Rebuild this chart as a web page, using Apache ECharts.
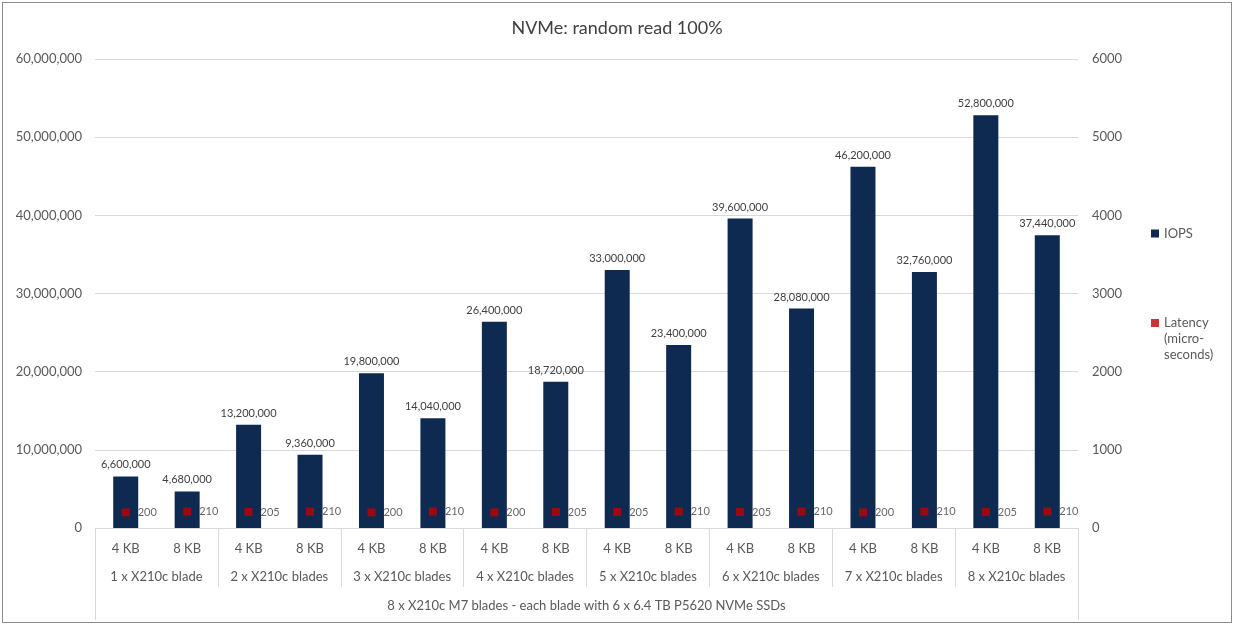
<!DOCTYPE html>
<html>
<head>
<meta charset="utf-8">
<script src="https://cdn.jsdelivr.net/npm/echarts@6/dist/echarts.min.js"></script>
<style>
    html, body { margin: 0; padding: 0; background: #fff; }
    #frame { position: absolute; left: 2px; top: 2px; width: 1228px; height: 619px; border: 1px solid #8c8c8c; }
    #chart { position: absolute; left: 0; top: 0; width: 1234px; height: 627px; }
</style>
</head>
<body>
<div id="frame"></div>
<div id="chart"></div>
<script>
    // block size per bar
    var sizes = ['4 KB', '8 KB', '4 KB', '8 KB', '4 KB', '8 KB', '4 KB', '8 KB',
                 '4 KB', '8 KB', '4 KB', '8 KB', '4 KB', '8 KB', '4 KB', '8 KB']
    var groups = ['1 x X210c blade', '2 x X210c blades', '3 x X210c blades', '4 x X210c blades',
                  '5 x X210c blades', '6 x X210c blades', '7 x X210c blades', '8 x X210c blades']
    var outer = ['8 x X210c M7 blades - each blade with 6 x 6.4 TB P5620 NVMe SSDs']
    var iops = [6600000, 4680000, 13200000, 9360000, 19800000, 14040000, 26400000, 18720000,
                33000000, 23400000, 39600000, 28080000, 46200000, 32760000, 52800000, 37440000]
    var latency = [200, 210, 205, 210, 200, 210, 200, 205, 205, 210, 205, 210, 200, 210, 205, 210]

    var font = 'Lato'
    var txt = '#595959'
    var sep = '#d9d9d9'

    function fmt(v) {
        return Number(v).toLocaleString('en-US')
    }

    var dom = echarts.init(document.getElementById('chart'))
    var option = {
        textStyle: { fontFamily: font },
        title: {
            text: 'NVMe: random read 100%',
            left: 'center',
            top: 14,
            textStyle: { fontFamily: font, fontSize: 18, fontWeight: 'normal', color: '#404040' }
        },
        legend: [{
            orient: 'vertical',
            left: 1146,
            top: 222,
            itemWidth: 8,
            itemHeight: 8,
            icon: 'rect',
            data: ['IOPS'],
            textStyle: { fontFamily: font, fontSize: 13, color: txt }
        }, {
            orient: 'vertical',
            left: 1146,
            top: 278,
            itemWidth: 8,
            itemHeight: 8,
            icon: 'rect',
            data: ['Latency'],
            // blank lines first so the icon sits on the first text line
            formatter: function () { return ' \n \nLatency\n(micro-\nseconds)' },
            textStyle: { fontFamily: font, fontSize: 13, color: txt, lineHeight: 16 }
        }],
        grid: { left: 95, right: 156, top: 59, bottom: 99 },
        xAxis: [{
            type: 'category',
            data: sizes,
            position: 'bottom',
            axisLine: { lineStyle: { color: sep } },
            axisTick: { show: false },
            axisLabel: { interval: 0, margin: 14, fontSize: 13, color: txt, fontFamily: font }
        }, {
            type: 'category',
            data: groups,
            position: 'bottom',
            axisLine: { show: false },
            axisTick: { show: true, interval: 0, length: 59, lineStyle: { color: sep } },
            axisLabel: { interval: 0, margin: 42, fontSize: 13, color: txt, fontFamily: font }
        }, {
            type: 'category',
            data: outer,
            position: 'bottom',
            axisLine: { show: false },
            axisTick: { show: true, interval: 0, length: 92, lineStyle: { color: sep } },
            axisLabel: { interval: 0, margin: 71, fontSize: 13, color: txt, fontFamily: font }
        }],
        yAxis: [{
            type: 'value',
            min: 0,
            max: 60000000,
            interval: 10000000,
            axisLine: { show: false },
            axisTick: { show: false },
            splitLine: { lineStyle: { color: sep } },
            axisLabel: { fontSize: 13, color: txt, margin: 13, fontFamily: font, formatter: fmt }
        }, {
            type: 'value',
            min: 0,
            max: 6000,
            interval: 1000,
            axisLine: { show: false },
            axisTick: { show: false },
            splitLine: { show: false },
            axisLabel: { fontSize: 13, color: txt, margin: 14, fontFamily: font, formatter: function (v) { return String(v) } }
        }],
        series: [{
            name: 'IOPS',
            type: 'bar',
            data: iops,
            barWidth: 25,
            itemStyle: { color: '#0f2a50' },
            label: {
                show: true,
                position: 'top',
                distance: 6,
                fontSize: 11,
                color: '#404040',
                fontFamily: font,
                formatter: function (p) { return fmt(p.value) }
            }
        }, {
            name: 'Latency',
            type: 'scatter',
            yAxisIndex: 1,
            data: latency,
            symbol: 'rect',
            symbolSize: 8,
            itemStyle: { color: '#c00000' },
            label: {
                show: true,
                position: 'right',
                distance: 8,
                fontSize: 11,
                color: '#404040',
                fontFamily: font
            }
        }]
    }
    dom.setOption(option)
</script>
</body>
</html>
